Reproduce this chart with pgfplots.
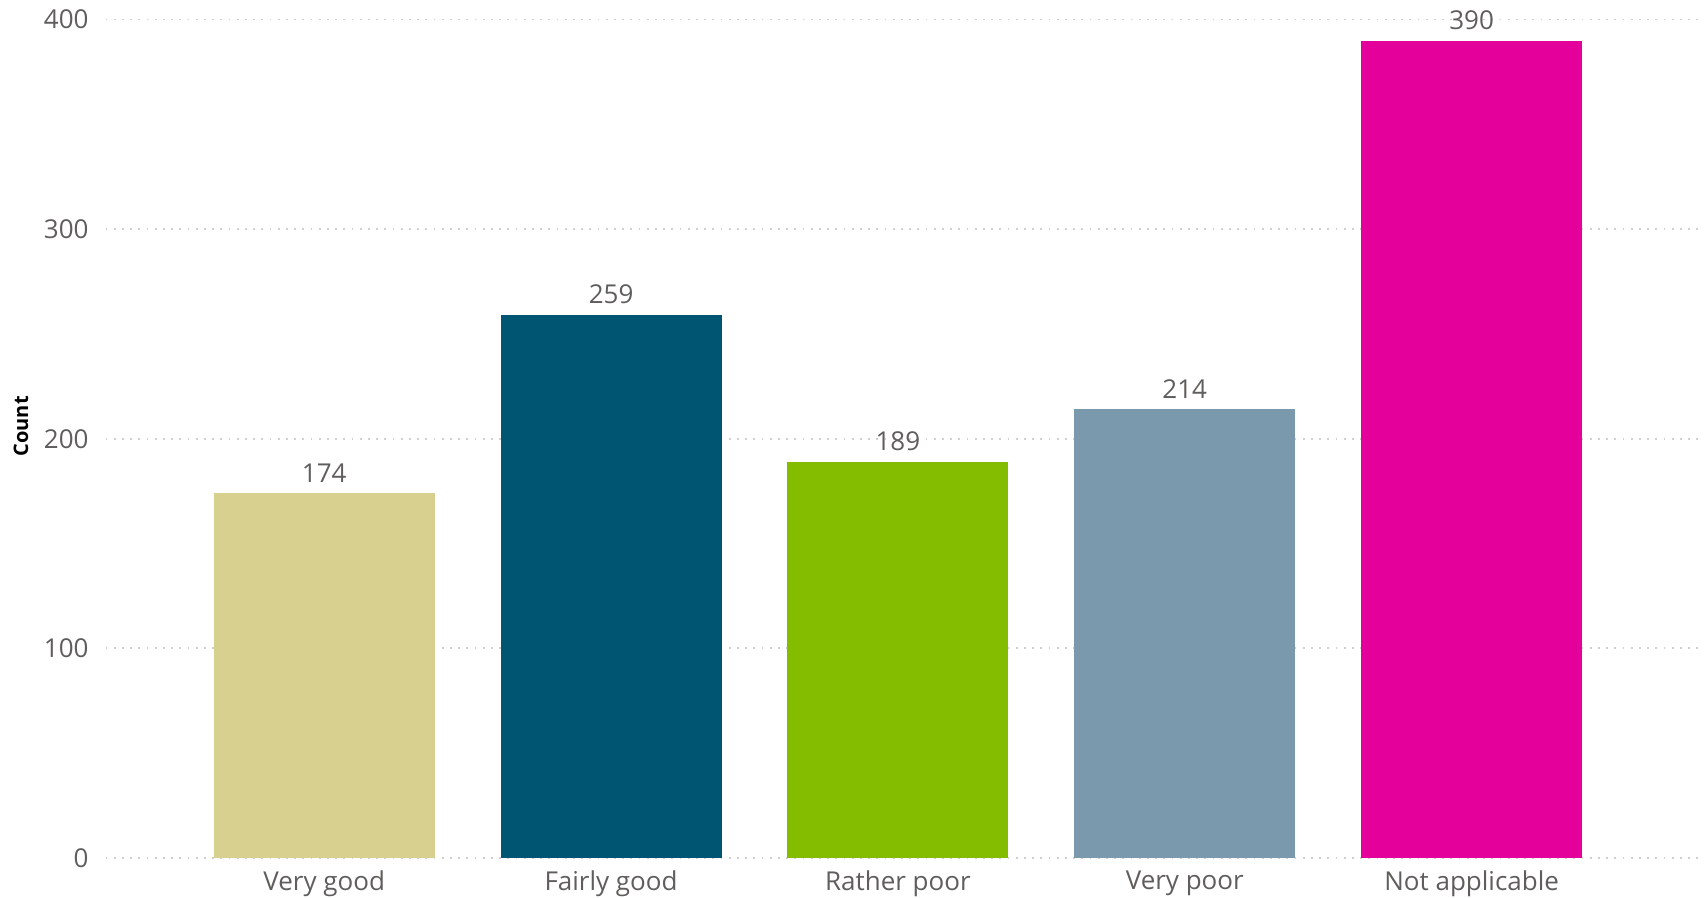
\documentclass[border=0pt]{standalone}
\usepackage{pgfplots}
\pgfplotsset{compat=1.18}
\usepackage{fontspec}
\setmainfont{Open Sans}
\definecolor{c1}{HTML}{D7D08E}
\definecolor{c2}{HTML}{005672}
\definecolor{c3}{HTML}{84BD00}
\definecolor{c4}{HTML}{7A99AC}
\definecolor{c5}{HTML}{E3009B}
\definecolor{tickgray}{HTML}{605E5C}
\definecolor{gridgray}{HTML}{D0D0D0}
\begin{document}
\begin{tikzpicture}
\begin{axis}[
  at={(0,0)}, anchor=south west,
  scale only axis,
  width=799.2pt, height=419.2pt,
  ybar, bar width=110.5pt, bar shift=0pt,
  xmin=-0.762, xmax=4.81,
  ymin=0, ymax=400,
  ytick={0,100,200,300,400},
  xtick={0,1,2,3,4},
  xticklabels={Very good,Fairly good,Rather poor,Very poor,Not applicable},
  /pgf/number format/assume math mode=true,
  axis line style={draw=none},
  major tick length=0pt,
  ymajorgrids,
  major grid style={gridgray, line width=0.9pt, dash pattern=on 0.9pt off 3.2pt},
  tick label style={font=\fontsize{13}{15}\selectfont, text=tickgray},
  yticklabel style={xshift=-5pt},
  xticklabel style={font=\fontsize{13}{15}\selectfont, yshift=-3pt},
  ylabel={Count},
  ylabel style={font=\fontsize{10}{12}\selectfont\bfseries, at={(axis description cs:-0.053,0.515)}, anchor=center, rotate=0},
  nodes near coords,
  nodes near coords style={font=\fontsize{13}{15}\selectfont, text=tickgray, anchor=south, yshift=2pt},
  clip=false,
]
\addplot[fill=c1, draw=none] coordinates {(0,174)};
\addplot[fill=c2, draw=none] coordinates {(1,259)};
\addplot[fill=c3, draw=none] coordinates {(2,189)};
\addplot[fill=c4, draw=none] coordinates {(3,214)};
\addplot[fill=c5, draw=none] coordinates {(4,390)};
\end{axis}
\pgfresetboundingbox
\useasboundingbox (-52.8pt,-20pt) rectangle (800.7pt,429pt);
\end{tikzpicture}
\end{document}
